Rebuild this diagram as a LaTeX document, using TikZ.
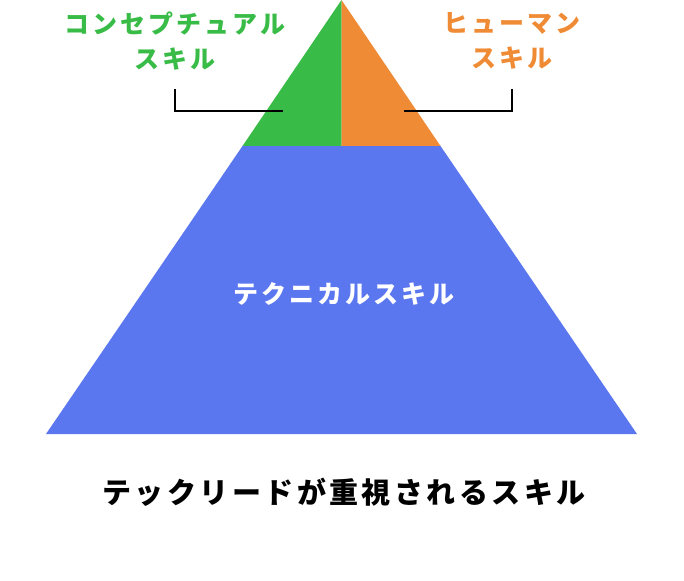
\documentclass[tikz,border=0pt]{standalone}
\usepackage{fontspec}
\newfontfamily\jp[LetterSpace=12]{Noto Sans CJK JP}
\definecolor{conc}{HTML}{39BC47}
\definecolor{human}{HTML}{F08B35}
\definecolor{tech}{HTML}{5B77F0}

\begin{document}
\begin{tikzpicture}[x=1pt, y=-1pt, thick,
    label/.style = {font=\jp\bfseries\fontsize{25}{35}\selectfont, align=center},
    bracket/.style = {line width=1.6pt, black}]
        \useasboundingbox (0,0) rectangle (684,580);

        \coordinate (top) at (341.5,0);
        \coordinate (midl) at (242.5,146);
        \coordinate (midc) at (341.5,146);
        \coordinate (midr) at (440.5,146);
        \coordinate (botl) at (46,434);
        \coordinate (botr) at (637,434);

        \fill[tech] (midl) -- (midr) -- (botr) -- (botl) -- cycle;
        \fill[conc] (top) -- (midc) -- (midl) -- cycle;
        \fill[human] (top) -- (midr) -- (midc) -- cycle;

        \node[label, text=conc] (concept) at (175,41) {コンセプチュアル\\スキル};
        \node[label, text=human] (humanskill) at (512,41) {ヒューマン\\スキル};
        \node[label, text=white] (techskill) at (344,294) {テクニカルスキル};
        \node[font=\jp\bfseries\fontsize{29}{32}\selectfont] (caption) at (344,492) {テックリードが重視されるスキル};

        \coordinate (cl) at (175,89);
        \coordinate (cr) at (283,111);
        \coordinate (hl) at (512,89);
        \coordinate (hr) at (404,111);
        \draw[bracket] (cl) |- (cr);
        \draw[bracket] (hl) |- (hr);

    \end{tikzpicture}
\end{document}
